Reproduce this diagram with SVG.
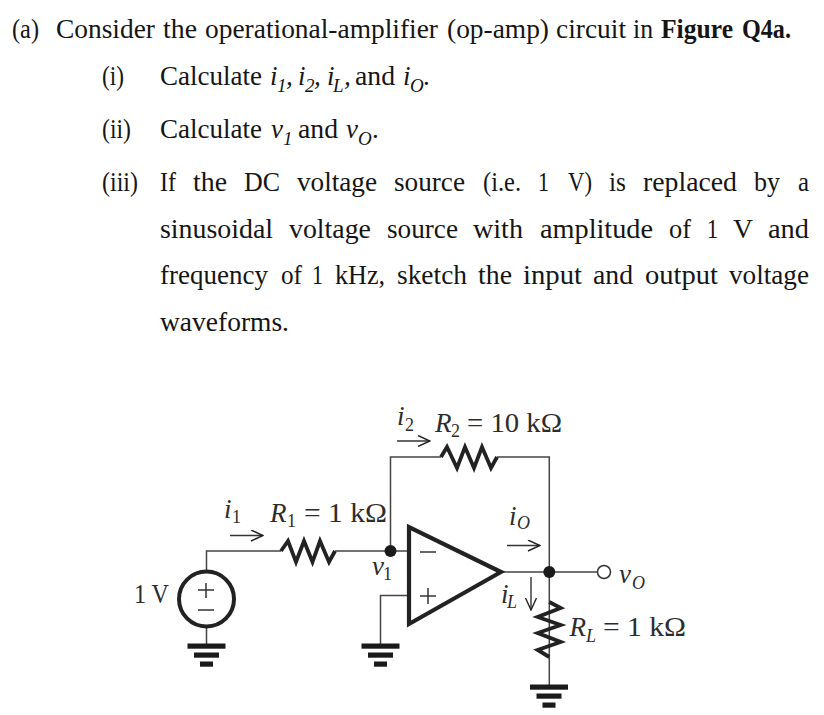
<svg xmlns="http://www.w3.org/2000/svg" width="824" height="715" viewBox="0 0 824 715">
<defs>
<marker id="ah" viewBox="0 0 14 12" refX="13" refY="6" markerWidth="14" markerHeight="12" markerUnits="userSpaceOnUse" orient="auto"><path d="M1 0.5 L13 6 L1 11.5" fill="none" stroke="#222" stroke-width="1.4"/></marker>
<g id="gnd"><rect x="-19" y="-2.5" width="38" height="5.2"/><rect x="-12.5" y="6.5" width="25" height="5.2"/><rect x="-6.5" y="15.5" width="13" height="5.2"/></g>
</defs>
<style>
text{fill:#151515}
.b{font-family:"Liberation Serif",serif;font-size:27px}
.s{font-family:"Liberation Serif",serif;font-size:19px;font-style:italic}
.c{font-family:"Liberation Serif",serif;font-size:27px;fill:#2c2c2c}
.d{font-family:"Liberation Serif",serif;font-size:18px;fill:#2c2c2c}
.i{font-style:italic}
.w{fill:none;stroke:#444;stroke-width:1.5}
.z{fill:none;stroke:#222;stroke-width:3.8}
.a{fill:none;stroke:#333;stroke-width:1.4;marker-end:url(#ah)}
</style>
<rect width="824" height="715" fill="#fff"/>
<g id="question">
<text class="b" x="12" y="37.5" textLength="27" lengthAdjust="spacingAndGlyphs">(a)</text>
<text class="b" x="56" y="37.5" textLength="99" lengthAdjust="spacingAndGlyphs">Consider</text>
<text class="b" x="163" y="37.5" textLength="34" lengthAdjust="spacingAndGlyphs">the</text>
<text class="b" x="205" y="37.5" textLength="233" lengthAdjust="spacingAndGlyphs">operational-amplifier</text>
<text class="b" x="447" y="37.5" textLength="102" lengthAdjust="spacingAndGlyphs">(op-amp)</text>
<text class="b" x="556" y="37.5" textLength="70" lengthAdjust="spacingAndGlyphs">circuit</text>
<text class="b" x="633" y="37.5" textLength="20" lengthAdjust="spacingAndGlyphs">in</text>
<text class="b" x="661" y="37.5" font-weight="bold" textLength="72" lengthAdjust="spacingAndGlyphs">Figure</text>
<text class="b" x="742" y="37.5" font-weight="bold" textLength="49" lengthAdjust="spacingAndGlyphs">Q4a.</text>

<text class="b" x="102" y="85" textLength="22" lengthAdjust="spacingAndGlyphs">(i)</text>
<text class="b" x="160" y="85" textLength="102" lengthAdjust="spacingAndGlyphs">Calculate</text>
<text class="b i" x="270" y="85">i</text><text class="s" x="277" y="92">1</text><text class="b i" x="286" y="85">,</text>
<text class="b i" x="298" y="85">i</text><text class="s" x="305" y="92">2</text><text class="b i" x="314" y="85">,</text>
<text class="b i" x="327" y="85">i</text><text class="s" x="333" y="92">L</text><text class="b i" x="344" y="85">,</text>
<text class="b" x="355" y="85" textLength="40" lengthAdjust="spacingAndGlyphs">and</text>
<text class="b i" x="403" y="85">i</text><text class="s" x="410" y="92">O</text><text class="b" x="423" y="85">.</text>

<text class="b" x="102" y="138" textLength="29" lengthAdjust="spacingAndGlyphs">(ii)</text>
<text class="b" x="160" y="138" textLength="102" lengthAdjust="spacingAndGlyphs">Calculate</text>
<text class="b i" x="271" y="138">v</text><text class="s" x="283" y="145">1</text>
<text class="b" x="298" y="138" textLength="40" lengthAdjust="spacingAndGlyphs">and</text>
<text class="b i" x="346" y="138">v</text><text class="s" x="358" y="145">O</text><text class="b" x="372" y="138">.</text>

<text class="b" x="102" y="191" textLength="36" lengthAdjust="spacingAndGlyphs">(iii)</text>
<text class="b" x="160" y="191" textLength="16" lengthAdjust="spacingAndGlyphs">If</text>
<text class="b" x="193" y="191" textLength="34" lengthAdjust="spacingAndGlyphs">the</text>
<text class="b" x="244" y="191" textLength="36" lengthAdjust="spacingAndGlyphs">DC</text>
<text class="b" x="297" y="191" textLength="80" lengthAdjust="spacingAndGlyphs">voltage</text>
<text class="b" x="394" y="191" textLength="71" lengthAdjust="spacingAndGlyphs">source</text>
<text class="b" x="483" y="191" textLength="38" lengthAdjust="spacingAndGlyphs">(i.e.</text>
<text class="b" x="538" y="191" textLength="11" lengthAdjust="spacingAndGlyphs">1</text>
<text class="b" x="568" y="191" textLength="24" lengthAdjust="spacingAndGlyphs">V)</text>
<text class="b" x="609" y="191" textLength="17" lengthAdjust="spacingAndGlyphs">is</text>
<text class="b" x="643" y="191" textLength="94" lengthAdjust="spacingAndGlyphs">replaced</text>
<text class="b" x="754" y="191" textLength="26" lengthAdjust="spacingAndGlyphs">by</text>
<text class="b" x="798" y="191" textLength="11" lengthAdjust="spacingAndGlyphs">a</text>

<text class="b" x="160" y="238" textLength="113" lengthAdjust="spacingAndGlyphs">sinusoidal</text>
<text class="b" x="289" y="238" textLength="82" lengthAdjust="spacingAndGlyphs">voltage</text>
<text class="b" x="387" y="238" textLength="71" lengthAdjust="spacingAndGlyphs">source</text>
<text class="b" x="473" y="238" textLength="50" lengthAdjust="spacingAndGlyphs">with</text>
<text class="b" x="540" y="238" textLength="113" lengthAdjust="spacingAndGlyphs">amplitude</text>
<text class="b" x="669" y="238" textLength="22" lengthAdjust="spacingAndGlyphs">of</text>
<text class="b" x="707" y="238" textLength="11" lengthAdjust="spacingAndGlyphs">1</text>
<text class="b" x="733" y="238" textLength="20" lengthAdjust="spacingAndGlyphs">V</text>
<text class="b" x="768" y="238" textLength="41" lengthAdjust="spacingAndGlyphs">and</text>

<text class="b" x="160" y="284" textLength="108" lengthAdjust="spacingAndGlyphs">frequency</text>
<text class="b" x="281" y="284" textLength="21" lengthAdjust="spacingAndGlyphs">of</text>
<text class="b" x="312" y="284" textLength="11" lengthAdjust="spacingAndGlyphs">1</text>
<text class="b" x="335" y="284" textLength="50" lengthAdjust="spacingAndGlyphs">kHz,</text>
<text class="b" x="397" y="284" textLength="70" lengthAdjust="spacingAndGlyphs">sketch</text>
<text class="b" x="478" y="284" textLength="34" lengthAdjust="spacingAndGlyphs">the</text>
<text class="b" x="523" y="284" textLength="59" lengthAdjust="spacingAndGlyphs">input</text>
<text class="b" x="593" y="284" textLength="40" lengthAdjust="spacingAndGlyphs">and</text>
<text class="b" x="645" y="284" textLength="73" lengthAdjust="spacingAndGlyphs">output</text>
<text class="b" x="729" y="284" textLength="80" lengthAdjust="spacingAndGlyphs">voltage</text>

<text class="b" x="160" y="331" textLength="129" lengthAdjust="spacingAndGlyphs">waveforms.</text>
</g>
<g id="connectors">
<path class="w" d="M206.5 572V551H281M335 551H390.5M390.5 551V457H441M497 457H549.3V687M390.5 551H409M409 595.5H380.5V645M206.5 626V645M501 572H598"/>
<path class="a" d="M230 535.5H263"/><path class="a" d="M397 441H430"/><path class="a" d="M507 545.5H540"/><path class="a" d="M531 577V610"/>
</g>
<g id="R1"><path class="z" d="M281 551L288 541L296 562L304 541L312.5 562L320 541L329 562L335 551"/></g>
<g id="R2"><path class="z" d="M441 457L447 447L457 468L465 447L474 468L482 447L491 468L497 457"/></g>
<g id="RL"><path class="z" d="M549.3 602L560.7 608L537.7 617L560.7 625L537.7 633L560.7 642L537.7 650L549.3 657"/></g>
<g id="source"><circle cx="206.5" cy="599" r="27.5" fill="#fff" stroke="#222" stroke-width="4"/><path d="M206 583V598M198 590H214M198 610H214" stroke="#333" stroke-width="1.5" fill="none"/></g>
<g id="opamp"><path d="M409 527V624L501 572Z" fill="#fff" stroke="#222" stroke-width="4.2"/><path d="M420 552H436M420 596H436M428 588V604" stroke="#333" stroke-width="1.5" fill="none"/></g>
<g id="nodes"><circle cx="390.5" cy="551" r="6" fill="#1a1a1a"/><circle cx="549.3" cy="572" r="6" fill="#1a1a1a"/><circle cx="604" cy="572" r="6.5" fill="#fff" stroke="#333" stroke-width="1.5"/></g>
<g id="grounds" fill="#1a1a1a"><use href="#gnd" x="206.5" y="646"/><use href="#gnd" x="380.5" y="646"/><use href="#gnd" x="549" y="687"/></g>
<g id="labels">
<text class="c" x="134" y="603" textLength="35" lengthAdjust="spacingAndGlyphs">1 V</text>
<text class="c i" x="224" y="518">i</text><text class="d" x="232" y="523">1</text>
<text class="c i" x="270" y="522">R</text><text class="d" x="287" y="527">1</text><text class="c" x="304" y="522" textLength="83" lengthAdjust="spacingAndGlyphs">= 1 kΩ</text>
<text class="c i" x="397" y="425">i</text><text class="d" x="405" y="431">2</text>
<text class="c i" x="435" y="432">R</text><text class="d" x="451" y="437">2</text><text class="c" x="467" y="432" textLength="95" lengthAdjust="spacingAndGlyphs">= 10 kΩ</text>
<text class="c i" x="372" y="575">v</text><text class="d" x="383" y="580">1</text>
<text class="c i" x="509" y="525">i</text><text class="d i" x="517" y="529">O</text>
<text class="c i" x="619" y="583">v</text><text class="d i" x="632" y="589">O</text>
<text class="c i" x="501" y="603">i</text><text class="d i" x="507" y="608">L</text>
<text class="c i" x="569.5" y="636">R</text><text class="d i" x="586" y="642">L</text><text class="c" x="603" y="636" textLength="83" lengthAdjust="spacingAndGlyphs">= 1 kΩ</text>
</g>
</svg>
